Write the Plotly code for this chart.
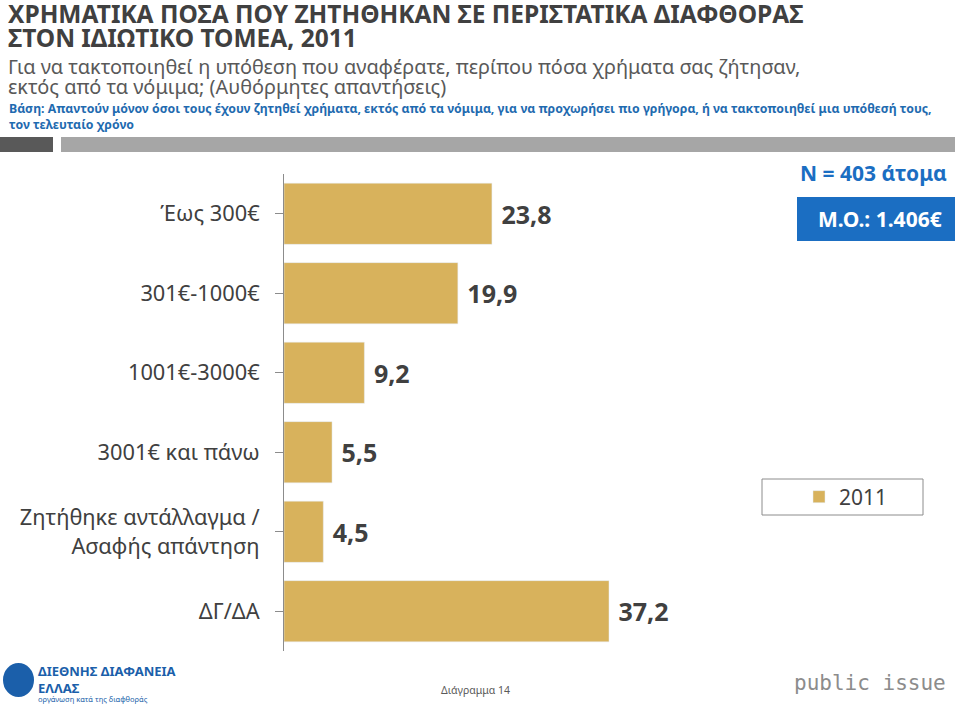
import plotly.graph_objects as go

# data
categories = ['Έως 300€', '301€-1000€', '1001€-3000€', '3001€ και πάνω',
              'Ζητήθηκε αντάλλαγμα /<br>Ασαφής απάντηση', 'ΔΓ/ΔΑ']
values_2011 = [23.8, 19.9, 9.2, 5.5, 4.5, 37.2]
series_name = '2011'

W, H = 959, 705
FONT = 'Noto Sans'
DARK = '#404040'
GOLD = '#D8B25C'
BLUE = '#1B6EC2'


def fx(px):
    return px / W


def fy(py):
    return 1 - py / H


fig = go.Figure(go.Bar(
    y=categories, x=values_2011, orientation='h', name=series_name,
    marker_color=GOLD,
    text=values_2011, texttemplate=' %{x:.1f}', textposition='outside',
    textfont=dict(family=FONT, size=25, color=DARK, weight='bold'),
    cliponaxis=False,
))

# plot area: axis at x=284, 37.2 ends at ~609
x_max = 40
plot_w = x_max * (609 - 284) / 37.2

fig.update_layout(
    width=W, height=H,
    margin=dict(l=0, r=0, t=0, b=0, autoexpand=False),
    plot_bgcolor='white', paper_bgcolor='white',
    separators=',.',
    bargap=0.23,
    showlegend=True,
    legend=dict(x=fx(799), y=fy(497), xanchor='left', yanchor='middle',
                font=dict(family=FONT, size=21, color=DARK),
                bgcolor='rgba(0,0,0,0)', itemwidth=30),
    xaxis=dict(domain=[fx(284), fx(284 + plot_w)], range=[0, x_max],
               visible=False, automargin=False),
    yaxis=dict(domain=[fy(651), fy(174)], autorange='reversed',
               showline=True, linecolor='#8c8c8c', linewidth=1,
               ticks='outside', ticklen=8, tickcolor='#8c8c8c',
               ticklabelstandoff=11, showgrid=False, automargin=False,
               tickfont=dict(family=FONT, size=21.8, color=DARK)),
)

shapes = [
    # grey header bars
    dict(type='rect', xref='paper', yref='paper', x0=fx(0), x1=fx(53),
         y0=fy(152), y1=fy(137), fillcolor='#595959', line_width=0),
    dict(type='rect', xref='paper', yref='paper', x0=fx(61), x1=fx(955),
         y0=fy(152), y1=fy(137), fillcolor='#A6A6A6', line_width=0),
    # mean box
    dict(type='rect', xref='paper', yref='paper', x0=fx(797), x1=fx(955),
         y0=fy(241), y1=fy(197), fillcolor=BLUE, line_width=0),
    # legend frame
    dict(type='rect', xref='paper', yref='paper', x0=fx(762), x1=fx(923),
         y0=fy(515), y1=fy(479), fillcolor='rgba(0,0,0,0)',
         line=dict(color='#8c8c8c', width=1)),
    # logo circle
    dict(type='circle', xref='paper', yref='paper', x0=fx(3), x1=fx(34),
         y0=fy(697), y1=fy(663), fillcolor='#1B5FAA', line_width=0),
]


def note(text, x, y, size, color=DARK, bold=False, xanchor='left',
         yanchor='middle', family=FONT):
    return dict(text=text, x=fx(x), y=fy(y), xref='paper', yref='paper',
                xanchor=xanchor, yanchor=yanchor, showarrow=False, align='left',
                font=dict(family=family, size=size, color=color,
                          weight='bold' if bold else 'normal'))


annotations = [
    note('ΧΡΗΜΑΤΙΚΑ ΠΟΣΑ ΠΟΥ ΖΗΤΗΘΗΚΑΝ ΣΕ ΠΕΡΙΣΤΑΤΙΚΑ ΔΙΑΦΘΟΡΑΣ', 6, 13, 24.5, bold=True),
    note('ΣΤΟΝ ΙΔΙΩΤΙΚΟ ΤΟΜΕΑ, 2011', 6, 38, 24.5, bold=True),
    note('Για να τακτοποιηθεί η υπόθεση που αναφέρατε, περίπου πόσα χρήματα σας ζήτησαν,',
         6, 66, 19.9, color='#595959'),
    note('εκτός από τα νόμιμα; (Αυθόρμητες απαντήσεις)', 6, 87, 19.9, color='#595959'),
    note('Βάση: Απαντούν μόνον όσοι τους έχουν ζητηθεί χρήματα, εκτός από τα νόμιμα, '
         'για να προχωρήσει πιο γρήγορα, ή να τακτοποιηθεί μια υπόθεσή τους,',
         7, 108, 12.3, color='#1F6BB0', bold=True),
    note('τον τελευταίο χρόνο', 7, 124, 12.3, color='#1F6BB0', bold=True),
    note('N = 403 άτομα', 873, 173, 21, color=BLUE, bold=True, xanchor='center'),
    note('Μ.Ο.: 1.406€', 880, 219, 21, color='white', bold=True, xanchor='center'),
    # footer
    note('ΔΙΕΘΝΗΣ ΔΙΑΦΑΝΕΙΑ<br>ΕΛΛΑΣ', 36, 679, 13, color='#1B5FAA', bold=True),
    note('οργάνωση κατά της διαφθοράς', 36, 699, 7.5, color='#1B5FAA'),
    note('Διάγραμμα 14', 475, 690, 10.5, color='#595959', xanchor='center'),
    note('public issue', 870, 683, 21, color='#8c8c8c', xanchor='center',
         family='DejaVu Sans Mono'),
]

fig.update_layout(shapes=shapes, annotations=annotations)

# drop the default page margin so the figure sits at the window's corner
fig.write_html('out.html', config={'displayModeBar': False},
               post_script="document.body.style.margin='0px';")
